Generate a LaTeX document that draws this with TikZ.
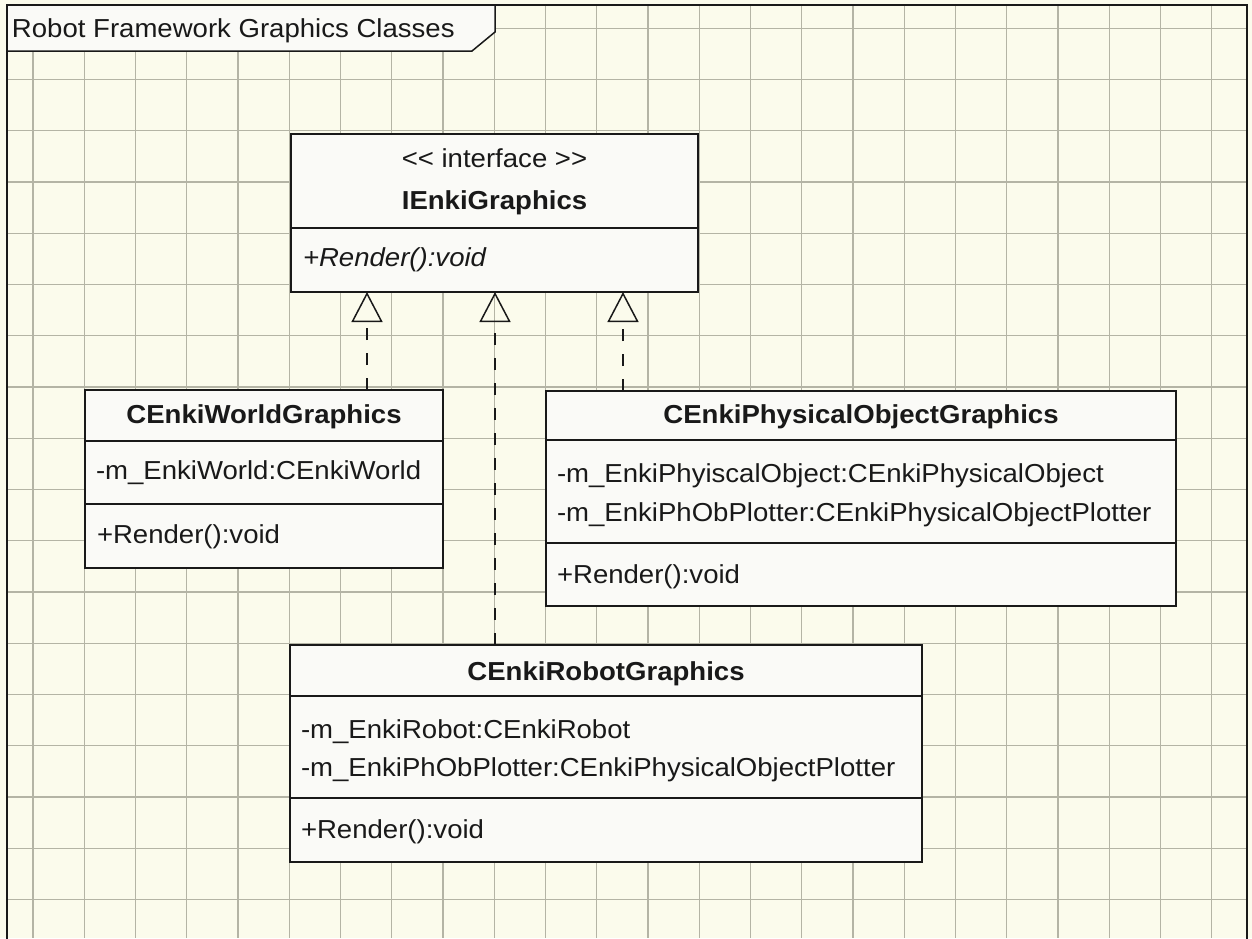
\documentclass[tikz,border=0pt]{standalone}
\usepackage{fontspec}
\setmainfont{Liberation Sans}[FakeStretch=1.06, Ligatures=TeXOff]
\usetikzlibrary{arrows.meta}
\definecolor{paper}{RGB}{251,251,236}
\definecolor{gridc}{RGB}{180,180,165}
\definecolor{boxfill}{RGB}{250,250,247}
\definecolor{ink}{RGB}{25,25,25}
\begin{document}
\begin{tikzpicture}[x=1pt,y=-1pt,
  umlbox/.style={draw=ink, line width=1.5pt, fill=boxfill, inner sep=0pt, outer sep=0pt, rectangle},
  divider/.style={draw=ink, line width=1.5pt},
  txt/.style={inner sep=0pt, outer sep=0pt, text=ink, font=\fontsize{26}{30}\selectfont, text height=19pt, text depth=5pt},
  ttl/.style={txt, font=\fontsize{26}{30}\selectfont\bfseries},
  attr/.style={txt, anchor=west},
  realize/.style={draw=ink, line width=1.5pt, dash pattern=on 12pt off 13pt,
    -{Triangle[open, width=31pt, length=30pt]}},
  gridline/.style={draw=gridc, line width=1.2pt}]
\useasboundingbox (0,0) rectangle (1252,938);
\clip (0,0) rectangle (1252,938);
\fill[paper] (0,0) rectangle (1252,938);
% grid
\foreach \i in {0,...,23} { \draw[gridline] ({33+51.25*\i},5) -- ({33+51.25*\i},938); }
\foreach \j in {0,...,17} { \draw[gridline] (7,{28.3+51.25*\j}) -- (1247,{28.3+51.25*\j}); }
% frame
\draw[draw=ink, line width=1.5pt] (7,950) -- (7,5) -- (1247,5) -- (1247,950);
% frame label
\draw[draw=ink, line width=1.5pt, fill=boxfill] (7,5) -- (495,5) -- (495,32) -- (472,51) -- (7,51) -- cycle;
\node[attr] (title) at (12,30) {Robot Framework Graphics Classes};

% IEnkiGraphics
\node[umlbox, minimum width=407pt, minimum height=158pt] (iface) at (494.5,213) {};
\draw[divider] (iface.west |- 0,228) -- (iface.east |- 0,228);
\node[txt] (ifst) at (494.5,160) {<< interface >>};
\node[ttl] (ifname) at (494.5,202) {IEnkiGraphics};
\node[attr, font=\fontsize{26}{30}\selectfont\itshape] (ifm) at (303,259) {+Render():void};

% CEnkiWorldGraphics
\node[umlbox, minimum width=358pt, minimum height=178pt] (world) at (264,479) {};
\draw[divider] (world.west |- 0,441) -- (world.east |- 0,441);
\draw[divider] (world.west |- 0,504) -- (world.east |- 0,504);
\node[ttl] (wname) at (264,416) {CEnkiWorldGraphics};
\node[attr] (wa) at (96,472) {-m\_EnkiWorld:CEnkiWorld};
\node[attr] (wm) at (97,536) {+Render():void};

% CEnkiPhysicalObjectGraphics
\node[umlbox, minimum width=630pt, minimum height=215pt] (phys) at (861,498.5) {};
\draw[divider] (phys.west |- 0,440) -- (phys.east |- 0,440);
\draw[divider] (phys.west |- 0,543) -- (phys.east |- 0,543);
\node[ttl] (pname) at (861,416) {CEnkiPhysicalObjectGraphics};
\node[attr] (pa1) at (557,475) {-m\_EnkiPhyiscalObject:CEnkiPhysicalObject};
\node[attr] (pa2) at (557,514) {-m\_EnkiPhObPlotter:CEnkiPhysicalObjectPlotter};
\node[attr] (pm) at (557,576) {+Render():void};

% CEnkiRobotGraphics
\node[umlbox, minimum width=632pt, minimum height=217pt] (robot) at (606,753.5) {};
\draw[divider] (robot.west |- 0,696) -- (robot.east |- 0,696);
\draw[divider] (robot.west |- 0,798) -- (robot.east |- 0,798);
\node[ttl] (rname) at (606,673) {CEnkiRobotGraphics};
\node[attr] (ra1) at (301,731) {-m\_EnkiRobot:CEnkiRobot};
\node[attr] (ra2) at (301,769) {-m\_EnkiPhObPlotter:CEnkiPhysicalObjectPlotter};
\node[attr] (rm) at (301,831) {+Render():void};

% realizations
\coordinate (c1) at (367,0);
\coordinate (c2) at (495,0);
\coordinate (c3) at (623,0);
\draw[realize] (world.north -| c1) -- (iface.south -| c1);
\draw[realize] (robot.north -| c2) -- (iface.south -| c2);
\draw[realize] (phys.north -| c3) -- (iface.south -| c3);
\end{tikzpicture}
\end{document}
